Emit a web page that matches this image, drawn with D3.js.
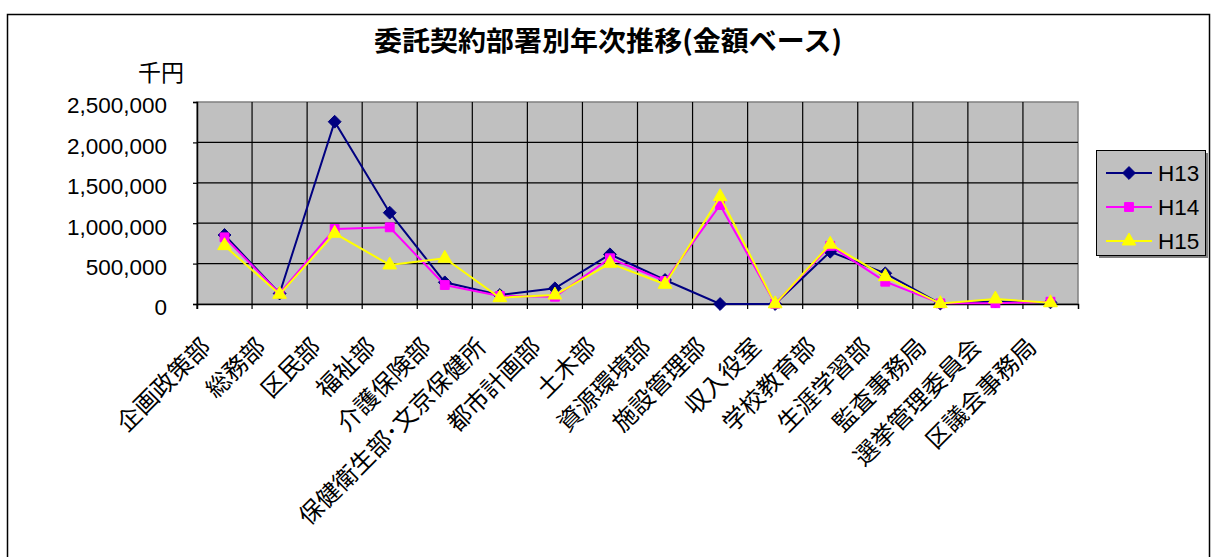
<!DOCTYPE html>
<html>
<head>
<meta charset="utf-8">
<script src="https://cdn.jsdelivr.net/npm/d3@7"></script>
<style>
  html, body { margin: 0; padding: 0; background: #fff; }
  svg { display: block; }
</style>
</head>
<body>
<svg id="chart" width="1212" height="557"></svg>
<script>
// 部署一覧
const categories = [
  "企画政策部", "総務部", "区民部", "福祉部", "介護保険部",
  "保健衛生部･文京保健所", "都市計画部", "土木部", "資源環境部",
  "施設管理部", "収入役室", "学校教育部", "生涯学習部",
  "監査事務局", "選挙管理委員会", "区議会事務局"
];

// 年度別の委託契約金額（千円）
const h13 = [854000, 130000, 2256000, 1130000, 268000, 111000, 194000, 615000,
             297000, 0, 0, 647000, 380000, 5000, 30000, 20000];
const h14 = [825000, 132000, 928000, 949000, 235000, 99000, 90000, 566000,
             285000, 1225000, 3000, 720000, 276000, 8000, 10000, 28000];
const h15 = [722000, 120000, 875000, 483000, 566000, 78000, 111000, 504000,
             244000, 1328000, 2000, 740000, 338000, 5000, 62000, 15000];

const seriesNames = ["H13", "H14", "H15"];
const yTicks = [0, 500000, 1000000, 1500000, 2000000, 2500000];

const series = [
  { name: seriesNames[0], values: h13, color: "#000080", marker: "diamond" },
  { name: seriesNames[1], values: h14, color: "#FF00FF", marker: "square" },
  { name: seriesNames[2], values: h15, color: "#FFFF00", marker: "triangle" }
];

const svg = d3.select("#chart");
const plot = { left: 197, right: 1078, top: 102, bottom: 304 };

// 外枠
svg.append("rect")
  .attr("x", 7.5).attr("y", 14.5)
  .attr("width", 1202).attr("height", 600)
  .attr("fill", "#fff").attr("stroke", "#000").attr("stroke-width", 1.5);

const x = d3.scaleBand().domain(categories).range([plot.left, plot.right]).padding(0);
const y = d3.scaleLinear().domain([0, 2500000]).range([plot.bottom, plot.top]);
const cx = d => x(d) + x.bandwidth() / 2;

// プロットエリア
svg.append("rect")
  .attr("x", plot.left).attr("y", plot.top)
  .attr("width", plot.right - plot.left).attr("height", plot.bottom - plot.top)
  .attr("fill", "#C0C0C0").attr("stroke", "#808080").attr("stroke-width", 1.5);

// 目盛線（横）
svg.append("g").selectAll("line").data(yTicks.slice(1, -1)).join("line")
  .attr("x1", plot.left).attr("x2", plot.right)
  .attr("y1", d => y(d)).attr("y2", d => y(d))
  .attr("stroke", "#000").attr("stroke-width", 1.2);

// 目盛線（縦）
svg.append("g").selectAll("line").data(categories.slice(1)).join("line")
  .attr("x1", d => x(d)).attr("x2", d => x(d))
  .attr("y1", plot.top).attr("y2", plot.bottom)
  .attr("stroke", "#000").attr("stroke-width", 1.2);

// Y軸
const yAxis = d3.axisLeft(y).tickValues(yTicks).tickSize(4).tickPadding(26)
  .tickFormat(d3.format(","));
const yg = svg.append("g").attr("transform", `translate(${plot.left},0)`).call(yAxis);
yg.select(".domain").attr("stroke", "#000").attr("stroke-width", 1.5);
yg.selectAll(".tick line").attr("stroke", "#000").attr("stroke-width", 1.2);
yg.selectAll(".tick text")
  .attr("font-family", "'Liberation Sans', Arial, sans-serif")
  .attr("font-size", 22.5).attr("fill", "#000")
  .attr("dy", "0.48em");

// X軸
const xAxis = d3.axisBottom(x).tickSize(5).tickFormat("");
const xg = svg.append("g").attr("transform", `translate(0,${plot.bottom})`).call(xAxis);
xg.select(".domain").attr("stroke", "#000").attr("stroke-width", 1.5);
xg.selectAll(".tick").attr("transform", d => `translate(${x(d)},0)`);
xg.selectAll(".tick line").attr("stroke", "#000").attr("stroke-width", 1.2);

// 部署名ラベル（斜め）
svg.append("g").selectAll("text").data(categories).join("text")
  .attr("transform", d => `translate(${cx(d) - 20},341) rotate(-45)`)
  .attr("text-anchor", "end")
  .attr("dominant-baseline", "central")
  .attr("font-family", "'Noto Sans CJK JP', sans-serif")
  .attr("font-size", 24).attr("fill", "#000")
  .text(d => d);

// 系列の折れ線とマーカー
const markerPath = {
  diamond: d3.symbol().type(d3.symbolDiamond2).size(105),
  square: d3.symbol().type(d3.symbolSquare2).size(100),
  triangle: d3.symbol().type(d3.symbolTriangle2).size(135)
};

const line = d3.line().x((v, i) => cx(categories[i])).y(v => y(v));

series.forEach(s => {
  const g = svg.append("g");
  g.append("path").datum(s.values)
    .attr("d", line).attr("fill", "none")
    .attr("stroke", s.color).attr("stroke-width", 2);
  g.selectAll("path.m").data(s.values).join("path").attr("class", "m")
    .attr("transform", (v, i) => `translate(${cx(categories[i])},${y(v)})`)
    .attr("d", markerPath[s.marker]())
    .attr("fill", s.color).attr("stroke", s.color).attr("stroke-width", 1);
});

// グラフタイトル
svg.append("text")
  .attr("x", 608).attr("y", 51)
  .attr("text-anchor", "middle")
  .attr("font-family", "'Noto Sans CJK JP', sans-serif")
  .attr("font-weight", "bold").attr("font-size", 27)
  .attr("textLength", 468).attr("lengthAdjust", "spacingAndGlyphs")
  .text("委託契約部署別年次推移(金額ベース)");

// 単位
svg.append("text")
  .attr("x", 161).attr("y", 81)
  .attr("text-anchor", "middle")
  .attr("font-family", "'Noto Sans CJK JP', sans-serif")
  .attr("font-size", 23)
  .text("千円");

// 凡例
const lg = svg.append("g").attr("transform", "translate(1096,150)");
lg.append("rect").attr("x", 3).attr("y", 3).attr("width", 109).attr("height", 105).attr("fill", "#808080");
lg.append("rect").attr("x", 0.5).attr("y", 0.5).attr("width", 109).attr("height", 105)
  .attr("fill", "#C0C0C0").attr("stroke", "#000").attr("stroke-width", 1);
series.forEach((s, i) => {
  const yy = 23 + i * 34;
  lg.append("line").attr("x1", 10).attr("x2", 56).attr("y1", yy).attr("y2", yy)
    .attr("stroke", s.color).attr("stroke-width", 2);
  lg.append("path").attr("transform", `translate(33,${yy})`)
    .attr("d", markerPath[s.marker]()).attr("fill", s.color).attr("stroke", s.color);
  lg.append("text").attr("x", 62).attr("y", yy).attr("dy", "0.36em")
    .attr("font-family", "'Liberation Sans', Arial, sans-serif")
    .attr("font-size", 22.5).text(s.name);
});
</script>
</body>
</html>
